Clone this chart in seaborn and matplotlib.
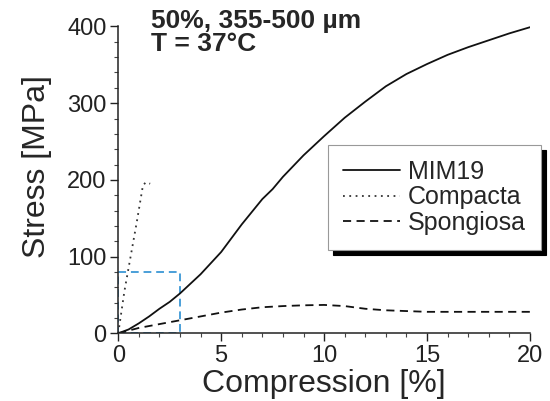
import numpy as np
import pandas as pd
import seaborn as sns
import matplotlib.pyplot as plt
from matplotlib.ticker import MultipleLocator

# values
mim19_x = [0, 0.5, 1, 1.5, 2, 2.5, 3, 4, 5, 6, 7, 7.5, 8, 9, 10, 11, 12, 13, 14, 15, 16, 17, 18, 19, 20]
mim19_y = [0, 5, 13, 22, 32, 41, 52, 77, 106, 142, 175, 188, 204, 232, 257, 281, 302, 322, 338, 351, 363, 373, 382, 391, 399]

compacta_x = [0, 0.3, 0.6, 0.9, 1.2, 1.35, 1.55]
compacta_y = [0, 55, 100, 145, 193, 197, 195]

spongiosa_x = [0, 1, 2, 3, 4, 5, 6, 7, 8, 9, 10, 11, 12, 13, 14, 15, 17, 20]
spongiosa_y = [0, 7, 12, 17, 22, 27, 31, 34, 35.5, 36.5, 37, 35.5, 32, 30, 29, 28, 28, 28]

# zoom box drawn on the chart (x 0-3 %, y 0-80 MPa)
box_x = [0, 3, 3, 0, 0]
box_y = [0, 0, 80, 80, 0]

sns.set_style("ticks")
plt.rcParams['font.family'] = ['Liberation Sans', 'DejaVu Sans']

fig = plt.figure(figsize=(5.5, 4.01), dpi=100)
ax = fig.add_axes([0.215, 0.1688, 0.7485, 0.7652])

df_m = pd.DataFrame({'x': mim19_x, 'y': mim19_y})
df_c = pd.DataFrame({'x': compacta_x, 'y': compacta_y})
df_s = pd.DataFrame({'x': spongiosa_x, 'y': spongiosa_y})

ax.plot(box_x, box_y, color='#4a9fd8', lw=1.4, linestyle=(0, (4, 2.5)), zorder=1)

sns.lineplot(data=df_m, x='x', y='y', ax=ax, color='#111111', lw=1.3,
             label='MIM19', sort=False)
sns.lineplot(data=df_c, x='x', y='y', ax=ax, color='#333333', lw=1.3,
             linestyle=(0, (1, 2.5)), label='Compacta', sort=False)
sns.lineplot(data=df_s, x='x', y='y', ax=ax, color='#111111', lw=1.3,
             linestyle=(0, (4.5, 3)), label='Spongiosa', sort=False)

ax.set_xlim(0, 20)
ax.set_ylim(0, 400)
ax.set_xticks([0, 5, 10, 15, 20])
ax.set_yticks([0, 100, 200, 300, 400])
ax.xaxis.set_minor_locator(MultipleLocator(1))
ax.yaxis.set_minor_locator(MultipleLocator(20))
ax.tick_params(which='major', direction='out', length=5.5, width=1, colors='#222222',
               labelsize=17, pad=3)
ax.tick_params(which='minor', direction='out', length=3, width=0.8, colors='#444444')
sns.despine(ax=ax)
for s in ['left', 'bottom']:
    ax.spines[s].set_linewidth(1.1)
    ax.spines[s].set_color('#222222')

ax.set_xlabel('Compression [%]', fontsize=23, labelpad=1)
ax.set_ylabel('Stress [MPa]', fontsize=23)
ax.yaxis.set_label_coords(-0.161, 0.545)

leg = ax.legend(loc='upper left', bbox_to_anchor=(0.596, 0.638),
                bbox_transform=fig.transFigure, fontsize=18, frameon=True,
                fancybox=False, framealpha=1, edgecolor='#999999',
                handlelength=2.3, handletextpad=0.3, labelspacing=0.05,
                borderpad=0.6, borderaxespad=0,
                shadow={'ox': 3.6, 'oy': -3.6, 'facecolor': 'black',
                        'edgecolor': 'black', 'alpha': 1})
leg.get_frame().set_linewidth(0.8)

fig.text(0.2745, 0.930, '50%, 355-500 µm', fontsize=19, fontweight='bold',
         va='baseline', ha='left')
fig.text(0.2745, 0.873, 'T = 37°C', fontsize=19, fontweight='bold',
         va='baseline', ha='left')

fig.savefig('out.png', dpi=100)
